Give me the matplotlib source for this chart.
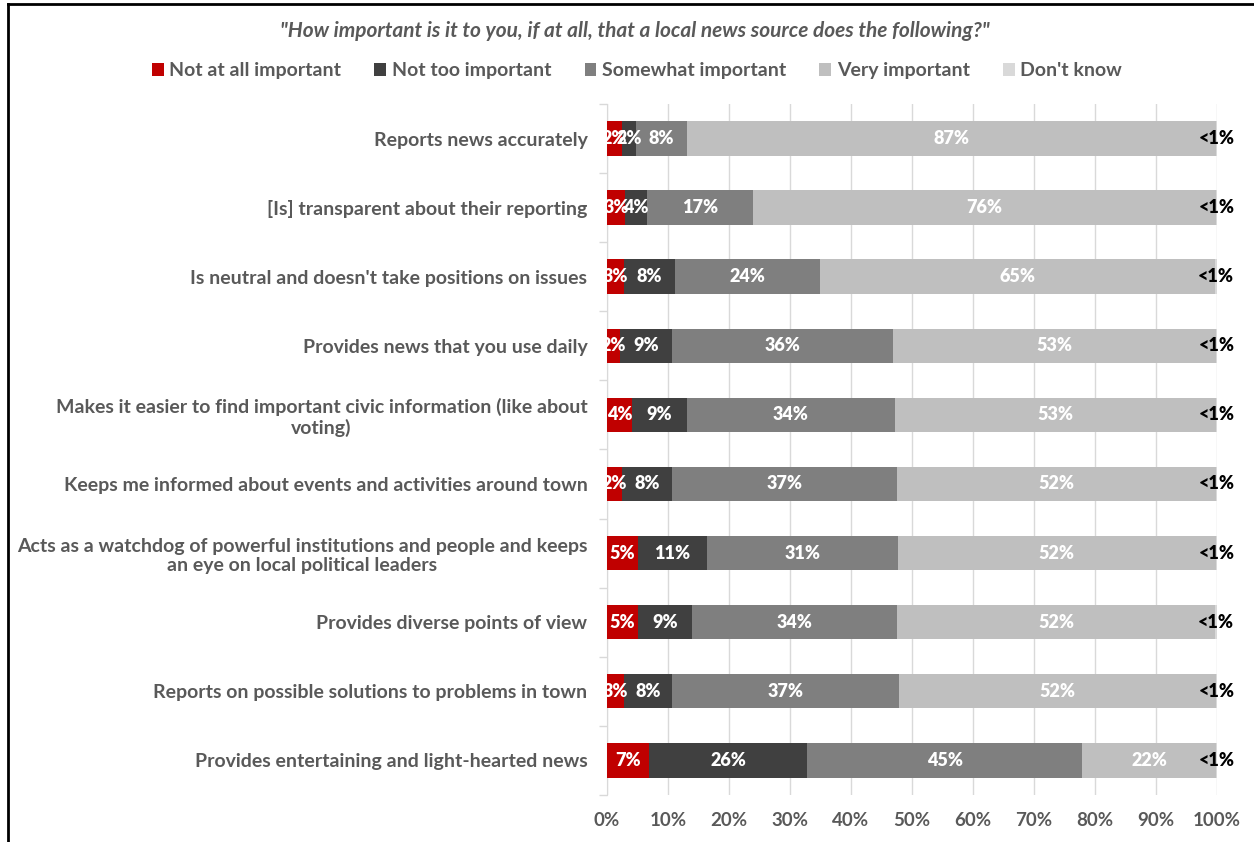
import matplotlib
matplotlib.use("Agg")
import matplotlib.pyplot as plt
from matplotlib.lines import Line2D
from matplotlib.patches import Patch
import numpy as np

plt.rcParams['font.family'] = ['Lato', 'DejaVu Sans']

# Survey data (share of respondents, %)
categories = [
    "Reports news accurately",
    "[Is] transparent about their reporting",
    "Is neutral and doesn't take positions on issues",
    "Provides news that you use daily",
    "Makes it easier to find important civic information (like about\nvoting)",
    "Keeps me informed about events and activities around town",
    "Acts as a watchdog of powerful institutions and people and keeps\nan eye on local political leaders",
    "Provides diverse points of view",
    "Reports on possible solutions to problems in town",
    "Provides entertaining and light-hearted news",
]
not_at_all = [2.4, 3.0, 2.8, 2.1, 4.1, 2.5, 5.1, 5.1, 2.8, 6.9]
not_too = [2.4, 3.6, 8.4, 8.6, 9.0, 8.2, 11.3, 8.8, 7.9, 25.9]
somewhat = [8.3, 17.4, 23.8, 36.2, 34.1, 36.8, 31.3, 33.6, 37.2, 45.1]
very = [86.7, 75.8, 64.7, 52.9, 52.6, 52.3, 52.1, 52.2, 51.9, 21.9]
dont_know = [0.2, 0.2, 0.3, 0.2, 0.2, 0.2, 0.2, 0.3, 0.2, 0.2]

series_names = ["Not at all important", "Not too important", "Somewhat important",
                "Very important", "Don't know"]
colors = ["#C00000", "#404040", "#7F7F7F", "#BFBFBF", "#D9D9D9"]
label_colors = ["white", "white", "white", "white", "black"]
text_gray = "#595959"

fig = plt.figure(figsize=(12.54, 8.42), dpi=100)
ax = fig.add_axes([0.484, 0.056, 0.4865, 0.8205])

y = np.arange(len(categories))
left = np.zeros(len(categories))
for vals, name, col, lcol in zip([not_at_all, not_too, somewhat, very, dont_know],
                                 series_names, colors, label_colors):
    vals = np.array(vals)
    ax.barh(y, vals, left=left, height=0.5, color=col, label=name, zorder=3)
    for yi, l, v in zip(y, left, vals):
        txt = "<1%" if v < 1 else f"{round(v)}%"
        ax.text(l + v / 2, yi, txt, ha="center", va="center", color=lcol,
                fontsize=13, fontweight="heavy", zorder=4)
    left += vals

ax.set_xlim(0, 100)
ax.set_ylim(len(categories) - 0.5, -0.5)
ax.set_xticks(np.arange(0, 101, 10))
ax.set_xticklabels([f"{t}%" for t in range(0, 101, 10)])
ax.set_yticks(y)
ax.set_yticklabels(categories)
ax.set_yticks(np.arange(-0.5, len(categories), 1), minor=True)

ax.tick_params(axis="x", length=0, labelsize=13.5, labelcolor=text_gray, pad=12)
ax.tick_params(axis="y", which="major", length=0, labelsize=14, labelcolor=text_gray, pad=14)
ax.tick_params(axis="y", which="minor", length=6, color="#D9D9D9", width=1)
for lab in ax.get_xticklabels() + ax.get_yticklabels():
    lab.set_fontweight("bold")
for lab in ax.get_yticklabels():
    lab.set_multialignment("center")

ax.grid(axis="x", color="#D9D9D9", linewidth=1, zorder=0)
for side in ["top", "right", "bottom"]:
    ax.spines[side].set_visible(False)
ax.spines["left"].set_color("#D9D9D9")

fig.text(0.506, 0.963, "\"How important is it to you, if at all, that a local news source does the following?\"",
         ha="center", va="center", fontsize=15, fontweight="bold", style="italic", color=text_gray)

handles = [Patch(facecolor=c, edgecolor="none") for c in colors]
fig.legend(handles, series_names, loc="center", bbox_to_anchor=(0.508, 0.916), ncol=5,
           frameon=False, handlelength=0.6, handleheight=0.7, handletextpad=0.3,
           columnspacing=1.7, prop={"size": 14, "weight": "bold"}, labelcolor=text_gray)

# outer frame lines on top and left
fig.add_artist(Line2D([0.006, 1.0], [0.995, 0.995], color="black", linewidth=2))
fig.add_artist(Line2D([0.006, 0.006], [0.0, 0.995], color="black", linewidth=2))

fig.savefig("out.png", dpi=100)
